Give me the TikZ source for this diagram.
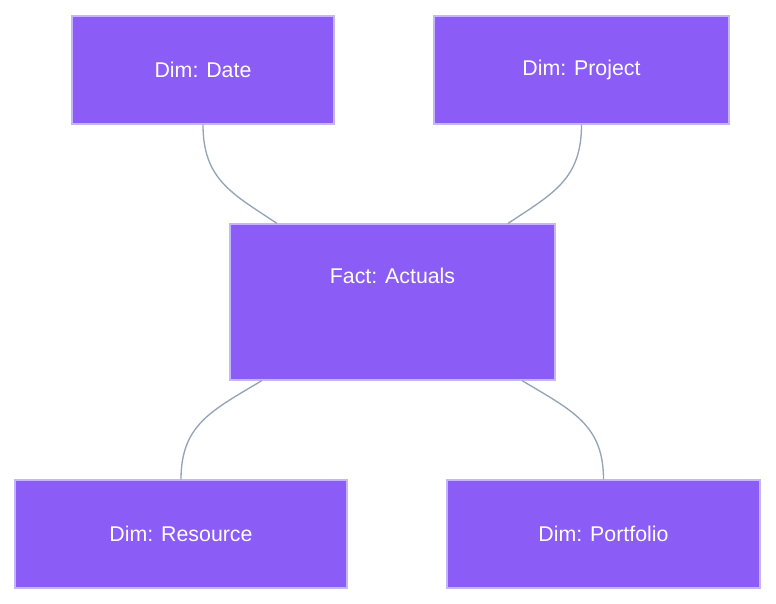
\documentclass[tikz,border=0pt]{standalone}
\usepackage{fontspec}
\setmainfont{Liberation Sans}
\definecolor{boxfill}{HTML}{8B5CF6}
\definecolor{boxline}{HTML}{C4B5FD}
\definecolor{link}{HTML}{94A3B8}
\begin{document}
\begin{tikzpicture}[x=0.75pt,y=-0.75pt,
    entity/.style={rectangle,draw=boxline,fill=boxfill,line width=0.8pt,text=white,
      font=\fontsize{16}{19}\selectfont,minimum height=81pt,inner sep=0pt},
    rel/.style={draw=link,line width=1pt}]

  \useasboundingbox (0,0) rectangle (776,604);

  \node[entity,minimum width=196.5pt] (date) at (203,70) {Dim: Date};
  \node[entity,minimum width=221.25pt] (project) at (581.5,70) {Dim: Project};
  \node[entity,minimum width=243.75pt,minimum height=117pt] (fact) at (392.5,302) {};
  \node[text=white,font=\fontsize{16}{19}\selectfont] (factlabel) at (392.5,276) {Fact: Actuals};
  \node[entity,minimum width=249pt] (resource) at (181,534) {Dim: Resource};
  \node[entity,minimum width=234.75pt] (portfolio) at (603.5,534) {Dim: Portfolio};

  \draw[rel] (date.south) .. controls +(0,55) and +(-45,-30) .. ([xshift=-86.6pt]fact.north);
  \draw[rel] (project.south) .. controls +(0,55) and +(45,-30) .. ([xshift=86.6pt]fact.north);
  \draw[rel] ([xshift=-97.9pt]fact.south) .. controls +(-50,30) and +(0,-55) .. (resource.north);
  \draw[rel] ([xshift=97.1pt]fact.south) .. controls +(50,30) and +(0,-55) .. (portfolio.north);

\end{tikzpicture}
\end{document}
